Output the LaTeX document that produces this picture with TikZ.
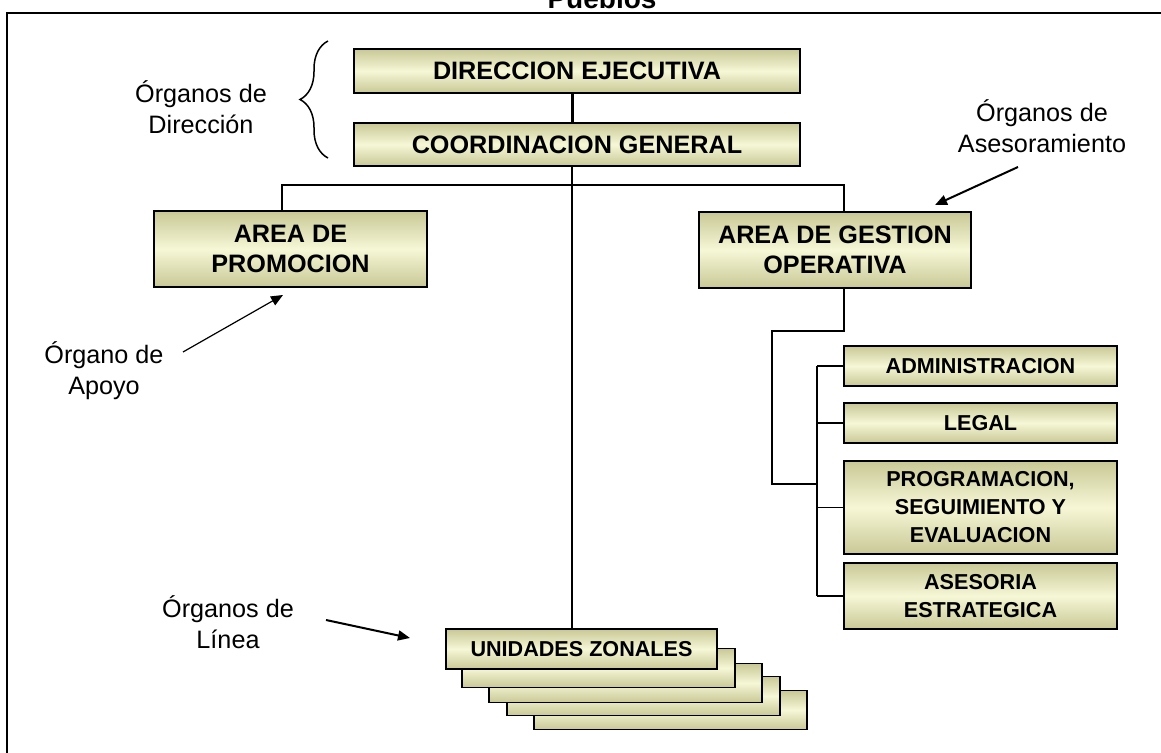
\documentclass[tikz,border=0pt]{standalone}
\usepackage{fontspec}
\setmainfont{Liberation Sans}
\usetikzlibrary{arrows.meta,decorations.pathreplacing}
\definecolor{boxdark}{RGB}{200,200,150}
\definecolor{boxlight}{RGB}{246,247,214}
\tikzset{
  unit/.style={draw, line width=0.9pt, top color=boxdark, bottom color=boxdark,
    middle color=boxlight, align=center, inner sep=0pt,
    font=\bfseries\fontsize{12.6}{15}\selectfont},
  subunit/.style={unit, minimum width=136.5pt, font=\bfseries\fontsize{10.8}{14}\selectfont},
  lbl/.style={align=center, font=\fontsize{12.6}{15.5}\selectfont},
  link/.style={line width=0.75pt},
  pointer/.style={line width=1pt, -{Triangle[length=6pt,width=5pt]}}
}
\begin{document}
\begin{tikzpicture}[x=0.5pt,y=-0.5pt]
\useasboundingbox (0,0) rectangle (1161,753);
% frame and title
\node[font=\bfseries\fontsize{14}{16}\selectfont, anchor=base] (title) at (602,9) {Pueblos};
\draw[line width=1pt] (7,800) -- (7,13) -- (1200,13);

% boxes
\node[unit, minimum width=223pt, minimum height=22pt] (dir) at (577,71) {DIRECCION EJECUTIVA};
\node[unit, minimum width=223pt, minimum height=21.5pt] (coord) at (577,144.5) {COORDINACION GENERAL};
\node[unit, minimum width=136.5pt, minimum height=38pt] (prom) at (290.5,249) {AREA DE\\PROMOCION};
\node[unit, minimum width=136pt, minimum height=38pt] (gest) at (835,250) {AREA DE GESTION\\OPERATIVA};
\node[subunit, minimum height=20pt] (adm) at (980.5,366) {ADMINISTRACION};
\node[subunit, minimum height=20pt] (leg) at (980.5,423) {LEGAL};
\node[subunit, minimum height=46.5pt] (prog) at (980.5,507.5) {PROGRAMACION,\\SEGUIMIENTO Y\\EVALUACION};
\node[subunit, minimum height=33pt] (ases) at (980.5,596) {ASESORIA\\ESTRATEGICA};
\foreach \dx/\dy [count=\i] in {89/61,62/47,44/34,17/19}
  \node[subunit, minimum height=19.5pt] (zona\i) at (581.5+\dx,649+\dy) {};
\node[subunit, minimum width=135.5pt, minimum height=20pt] (zonas) at (581.5,649) {UNIDADES ZONALES};

% connectors
\coordinate (trunk) at (572,0);
\coordinate (lbus) at (282,185);
\coordinate (rbus) at (844,185);
\coordinate (elbow) at (772,331);
\coordinate (joint) at (817,484);
\coordinate (spine) at (817,0);
\draw[line width=1.5pt] (dir.south -| trunk) -- (coord.north -| trunk);
\draw[link] (coord.south -| trunk) -- (zonas.north -| trunk);
\draw[link] (prom.north -| lbus) -- (lbus) -- (rbus) -- (gest.north -| rbus);
\draw[link] (gest.south -| rbus) |- (elbow) |- (joint);
\draw[link] (adm.west -| spine) -- (ases.west -| spine);
\foreach \n in {adm,leg,prog,ases}
  \draw[link] (\n.west -| spine) -- (\n.west);

% labels
\node[lbl] (dirlbl) at (201,107) {Órganos de\\Dirección};
\draw[line width=0.75pt, decorate, decoration={brace, amplitude=14pt}] (328,158) -- (328,41);
\node[lbl] (aselbl) at (1042,126) {Órganos de\\Asesoramiento};
\node[lbl] (apolbl) at (104,371) {Órgano de\\Apoyo};
\node[lbl] (linlbl) at (228,622) {Órganos de\\Línea};

\coordinate (asefrom) at (1018,167);
\coordinate (asetip) at (935,205);
\coordinate (apofrom) at (183,352);
\coordinate (apotip) at (283,295);
\coordinate (linfrom) at (326,620);
\coordinate (lintip) at (410,638);
\draw[pointer] (asefrom) -- (asetip);
\draw[pointer, line width=0.6pt] (apofrom) -- (apotip);
\draw[pointer] (linfrom) -- (lintip);
\end{tikzpicture}
\end{document}
